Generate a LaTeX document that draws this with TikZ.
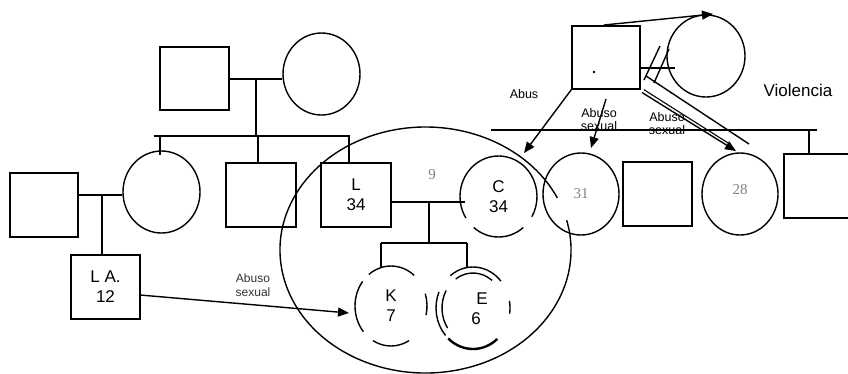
\documentclass[tikz,border=0pt]{standalone}
\usepackage{fontspec}
\setmainfont{Liberation Sans}
\newfontfamily\serifg{Liberation Serif}
\usetikzlibrary{arrows.meta,shapes.geometric,calc}
\newcommand\myarc[6][]{\draw[#1] (#2) ++(-#6:#3 and #4) arc[start angle=-#6, end angle=-#5, x radius=#3, y radius=#4];}
\tikzset{
  base/.style={inner sep=0pt, align=center, font=\fontsize{17}{20}\selectfont},
  sq/.style={base, draw, rectangle, minimum width=69pt, minimum height=64pt},
  circ/.style={base, draw, ellipse, minimum width=77pt, minimum height=82pt},
  ghost/.style={base, ellipse, minimum width=74pt, minimum height=80pt},
  lbl/.style={font=\fontsize{12.5}{13}\selectfont, align=center, inner sep=0pt},
  num/.style={font=\serifg\fontsize{15}{18}\selectfont, text=black!50, inner sep=0pt},
  arr/.style={-{Triangle[length=11pt,width=9pt]}},
}
\begin{document}
\begin{tikzpicture}[x=1pt,y=-1pt,line width=1.4pt]
\useasboundingbox (0,0) rectangle (848,373);
\clip (0,0) rectangle (848,373);
% grandparents
\node[sq, minimum width=69pt, minimum height=63pt] (GF) at (194.5,78.5) {};
\node[circ] (GM) at (321.5,74) {};
\draw (GF.east |- 0,79) -- (GM.west |- 0,79);
\coordinate (j1) at (256,79);
\coordinate (s1) at (256,136);
\draw (j1) -- (s1);
\coordinate (sibL) at (154,136);
\coordinate (sibR) at (350,136);
\draw (sibL) -- (sibR);
% children
\node[circ] (S1) at (161.5,192) {};
\node[sq, minimum width=70pt] (S2) at (261,195) {};
\node[sq, minimum width=70pt] (L) at (356,195) {L\\34};
\draw (160,136) -- (160,155);
\draw (258,136) -- (258,163);
\draw (349,136) -- (349,163);
% left spouse and LA
\node[sq, minimum width=68pt] (SP) at (44,205) {};
\draw (SP.east |- 0,195) -- (S1.west |- 0,195);
\coordinate (j2) at (102,195);
\node[sq] (LA) at (105.5,287) {L A.\\12};
\draw (j2) -- (j2 |- LA.north);
% L -- C couple
\node[ghost, minimum width=77pt, minimum height=81pt] (C) at (498.5,196.5) {C\\34};
\coordinate (cw) at (465,202);
\draw (L.east |- cw) -- (cw);
\coordinate (j3) at (429,202);
\coordinate (s3) at (429,243);
\draw (j3) -- (s3);
\draw (381,243) -- (467,243);
\node[ghost, minimum width=72pt, minimum height=80pt] (K) at (391,306) {K\\7};
\node[ghost] (E) at (473,308) {};
\node[base] (Et) at (479.5,310) {\begin{tabular}{@{}l@{}}\hspace{5pt}E\\6\end{tabular}};
\draw (381,243) -- (381,267);
\draw (467,243) -- (467,268);
% broken circles
\myarc{C.center}{38.5}{40.5}{-30}{212}
\myarc{C.center}{38.5}{40.5}{-130}{-50}
\myarc{K.center}{36}{40}{50}{128}
\myarc{K.center}{36}{40}{142}{220}
\myarc{K.center}{36}{40}{240}{300}
\myarc{K.center}{36}{40}{-13}{18}
\myarc{E.center}{37}{41}{41}{128}
\myarc{E.center}{37}{41}{157}{222}
\myarc{E.center}{37}{41}{-8}{10}
\myarc[line width=2.4pt]{E.center}{37}{41}{228}{311}
\myarc{E.center}{31}{35}{52}{124}
\myarc{E.center}{31}{35}{150}{215}
\node[num] (n9) at (432,175) {9};
% big ellipse
\coordinate (ell) at (425.5,250);
\myarc{ell}{145.5}{123}{25}{374}
% LA arrow
\coordinate (laS) at (140,295);
\coordinate (laE) at (349,313);
\draw[arr] (laS) -- (laE);
\node[lbl, font=\fontsize{12}{14}\selectfont, text=black!80] (lab1) at (253,285) {Abuso\\sexual};
% right family
\node[sq, minimum width=68pt, minimum height=63pt] (TF) at (606,57.5) {};
\node[circ, minimum width=78pt] (TM) at (706,56) {};
\fill (594,72) circle (1.4pt);
\coordinate (tm) at (675,68);
\draw (TF.east |- tm) -- (tm);
\draw (644,80) -- (660,46);
\draw (654,83) -- (669,49);
\coordinate (tfa) at (604,25);
\coordinate (tma) at (713,14);
\draw[arr] (tfa) -- (tma);
\node[font=\fontsize{17}{20}\selectfont, inner sep=0pt] (vio) at (798,90) {Violencia};
\coordinate (sib2L) at (491,130);
\coordinate (sib2R) at (817,130);
\draw (sib2L) -- (sib2R);
\node[circ, minimum width=76pt] (R31) at (581,194) {};
\node[num] at (R31.center) {31};
\node[sq] (RS) at (657.5,194) {};
\node[circ, minimum width=76pt] (R28) at (740,194) {};
\node[num] at (740,190) {28};
\node[sq, minimum width=76pt] (RR) at (822,186) {};
\draw (809,130) -- (RR.north -| 809,0);
% abuse arrows
\coordinate (a1e) at (524,153);
\draw[arr] (TF.south west) -- (a1e);
\node[lbl] (labA) at (524,94) {Abus};
\coordinate (a2s) at (606,99);
\coordinate (a2e) at (591,148);
\draw[arr] (a2s) -- (a2e);
\node[lbl] (labB) at (599,120) {Abuso\\sexual};
\coordinate (a3s) at (642,92.5);
\coordinate (a3e) at (736,151);
\draw[arr] (a3s) -- (a3e);
\draw[line width=1.1pt] ($(a3s)+(1.8,-2.9)$) -- ($(a3e)+(-6,-6.8)$);
\coordinate (l4s) at (646,76);
\coordinate (l4e) at (749,144);
\draw (l4s) -- (l4e);
\node[lbl] (labC) at (667,124) {Abuso\\sexual};
\end{tikzpicture}
\end{document}
